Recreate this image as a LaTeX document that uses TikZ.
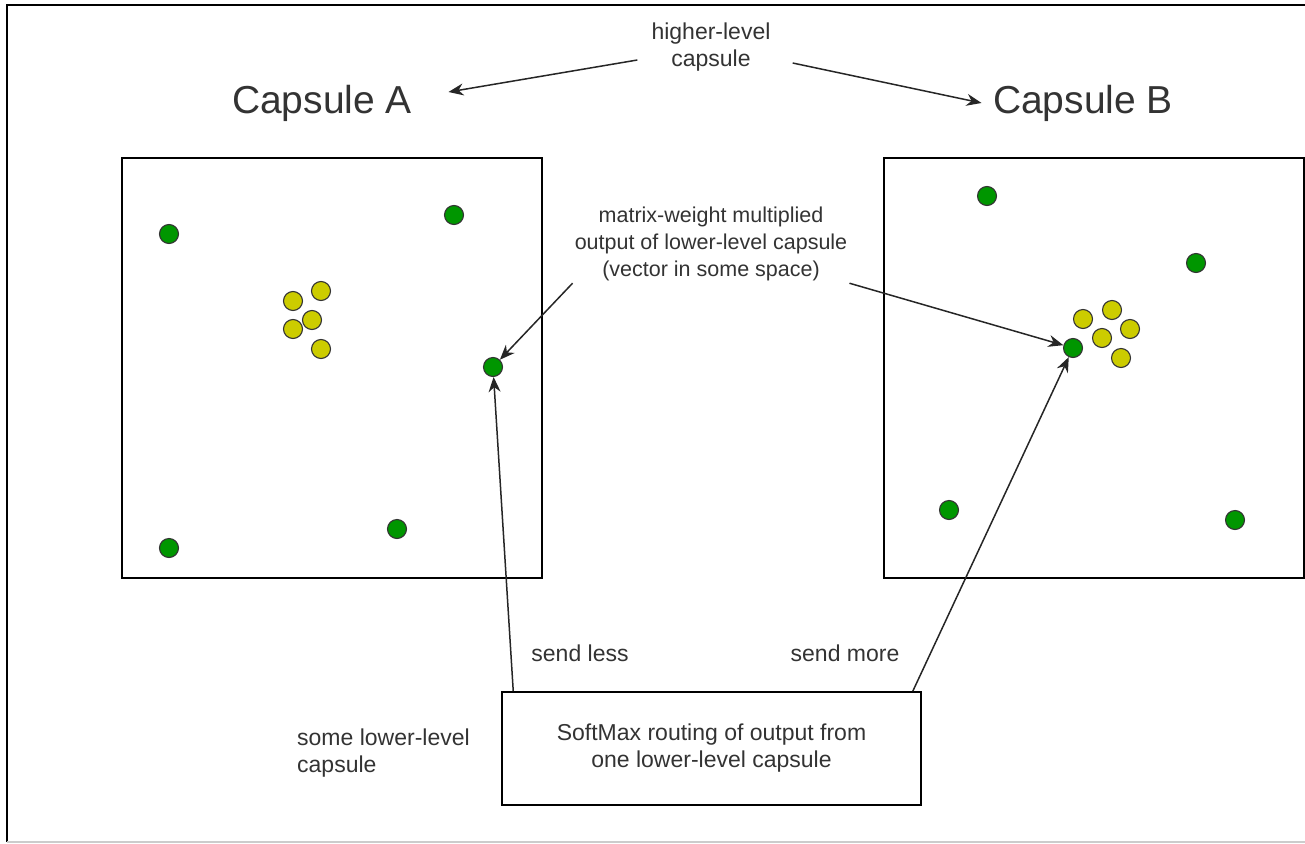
\documentclass[tikz,border=0pt]{standalone}
\usepackage{fontspec}
\setmainfont{Liberation Sans}
\usepackage{tikz}
\usetikzlibrary{arrows.meta, positioning, calc}
\definecolor{dotgreen}{RGB}{0, 150, 0}
\definecolor{dotyellow}{RGB}{204, 204, 0}
\definecolor{inkgray}{RGB}{51, 51, 51}

\begin{document}
\begin{tikzpicture}[x=1pt, y=-1pt,
  capbox/.style={draw, line width=1.5pt, minimum width=420pt, minimum height=420pt, anchor=north west},
  gdot/.style={circle, draw=black!80, line width=1.1pt, fill=dotgreen, minimum size=19pt, inner sep=0pt},
  ydot/.style={circle, draw=black!80, line width=1.1pt, fill=dotyellow, minimum size=19pt, inner sep=0pt},
  lbl/.style={font=\fontsize{23}{27}\selectfont, text=inkgray, align=center, inner sep=2pt},
  title/.style={font=\fontsize{39}{44}\selectfont, text=inkgray},
  arr/.style={-{Stealth[length=15pt, width=12pt]}, line width=1.5pt, black!85}
]
\useasboundingbox (0,0) rectangle (1305,843);

% outer frame
\draw[line width=1.8pt] (7,842) -- (7,5) -- (1310,5);
\draw[line width=1.2pt, black!20] (7,842) -- (1310,842);

% capsule boxes
\node[capbox] (boxA) at (121,157) {};
\node[capbox] (boxB) at (883,157) {};

% titles
\node[title] (capA) at (322,103) {Capsule A};
\node[title] (capB) at (1083,103) {Capsule B};

% Capsule A votes
\node[gdot] (a1) at (169,234) {};
\node[gdot] (a2) at (454,215) {};
\node[gdot] (a3) at (493,367) {};
\node[gdot] (a4) at (169,548) {};
\node[gdot] (a5) at (397,529) {};
\node[ydot] (ay1) at (293,301) {};
\node[ydot] (ay2) at (321,291) {};
\node[ydot] (ay3) at (312,320) {};
\node[ydot] (ay4) at (293,329) {};
\node[ydot] (ay5) at (321,349) {};

% Capsule B votes
\node[gdot] (b1) at (987,196) {};
\node[gdot] (b2) at (1196,263) {};
\node[gdot] (b3) at (1073,348) {};
\node[gdot] (b4) at (949,510) {};
\node[gdot] (b5) at (1235,520) {};
\node[ydot] (by1) at (1083,319) {};
\node[ydot] (by2) at (1112,310) {};
\node[ydot] (by3) at (1130,329) {};
\node[ydot] (by4) at (1102,338) {};
\node[ydot] (by5) at (1121,358) {};

% labels
\node[lbl] (higher) at (711,47) {higher-level\\capsule};
\node[lbl, font=\fontsize{21.5}{27}\selectfont] (mweight) at (711,244) {matrix-weight multiplied\\output of lower-level capsule\\(vector in some space)};
\node[lbl] (less) at (580,653) {send less};
\node[lbl] (more) at (845,653) {send more};
\node[lbl, align=left, anchor=west] (lower) at (295,753) {some lower-level\\capsule};
\node[draw, line width=1.5pt, minimum width=419pt, minimum height=113pt, lbl] (soft) at (711.5,748.5) {SoftMax routing of output from\\one lower-level capsule};

% arrows
\draw[arr] ([xshift=-12pt, yshift=-13pt]higher.west) -- ([xshift=33pt, yshift=11pt]capA.east);
\draw[arr] ([xshift=20pt, yshift=-16pt]higher.east) -- ([xshift=-8pt]capB.west);
\draw[arr] (mweight.south west) -- (a3);
\draw[arr] (mweight.south east) -- (b3);
\draw[arr] ([xshift=12pt]soft.north west) -- (a3);
\draw[arr] ([xshift=-9pt]soft.north east) -- (b3);

\end{tikzpicture}
\end{document}
